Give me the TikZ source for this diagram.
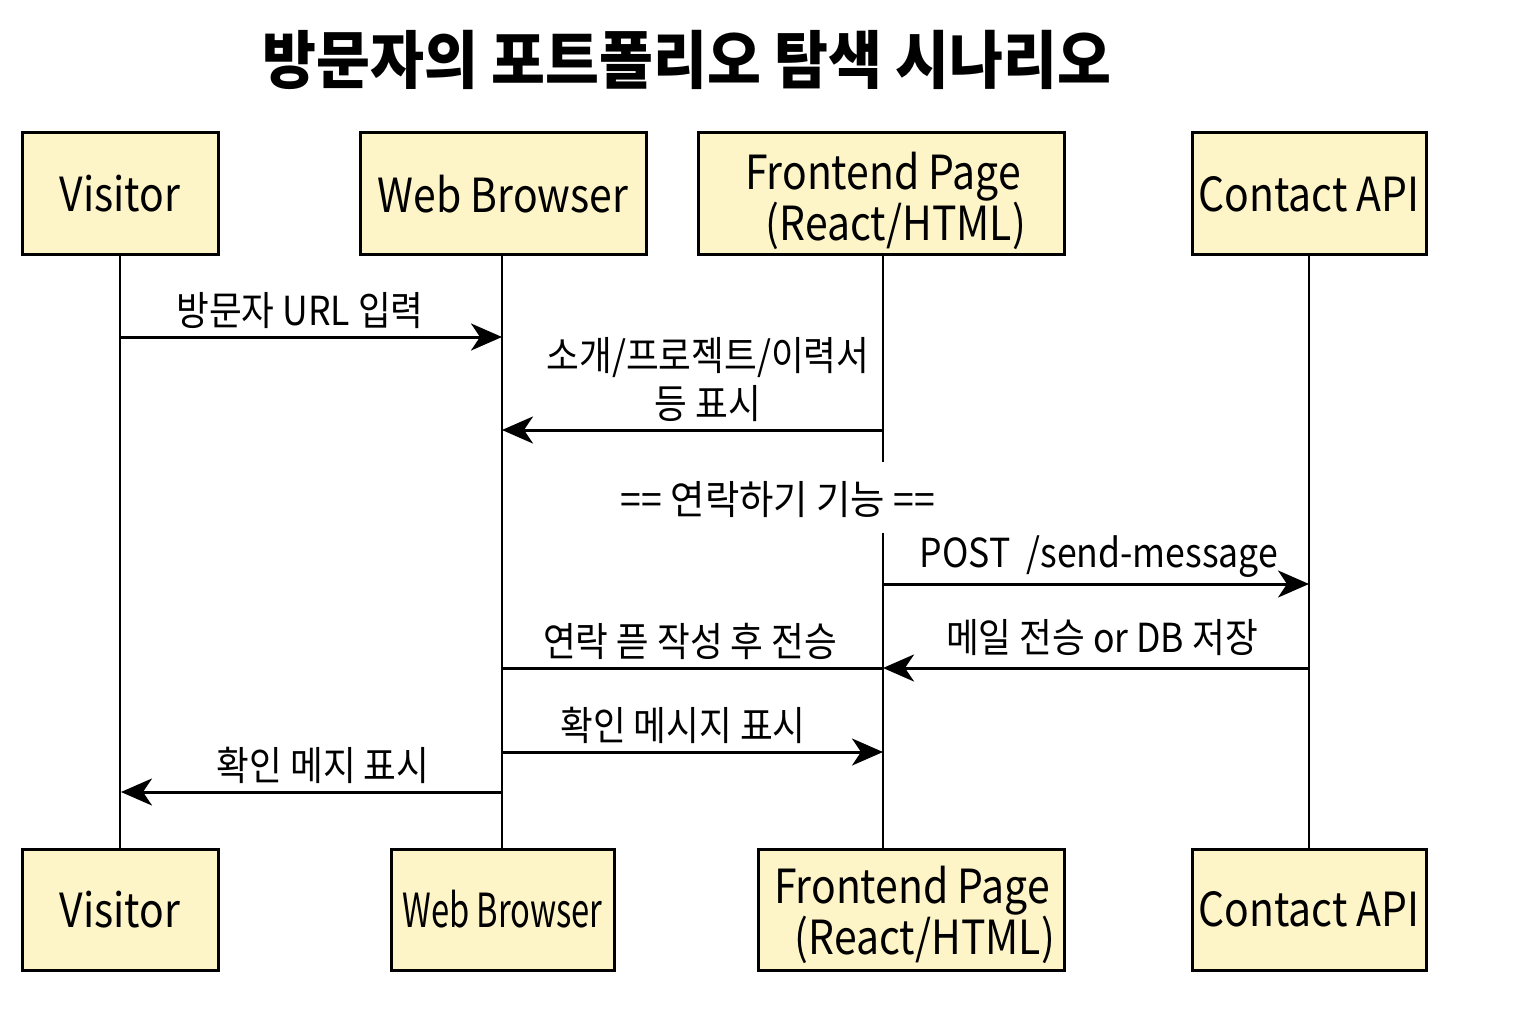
\documentclass[tikz,border=0pt]{standalone}
\usepackage{graphicx}
\usepackage{fontspec}
\setmainfont{Noto Sans CJK KR}[FakeStretch=0.89]
\newfontfamily\titlefont{Noto Sans CJK KR}[FakeStretch=0.93]
\newfontfamily\actorfont{Noto Sans CJK KR}[FakeStretch=0.87]
\usetikzlibrary{arrows.meta}
\definecolor{boxfill}{RGB}{253,244,200}
\tikzset{
  actor/.style={draw=black, line width=3pt, fill=boxfill, minimum height=122pt,
    align=center, inner sep=0pt, font=\actorfont\fontsize{47}{49}\selectfont},
  life/.style={line width=2.5pt},
  msg/.style={line width=3pt, -{Stealth[length=31pt,width=27pt,inset=9pt]}},
  plain/.style={line width=3pt},
  lbl/.style={font=\fontsize{40}{48}\selectfont, inner sep=0pt, align=center}
}
\begin{document}
\begin{tikzpicture}[x=1pt,y=-1pt]
\useasboundingbox (0,0) rectangle (1536,1024);
% title
\node[font=\titlefont\bfseries\fontsize{63}{70}\selectfont] (title) at (687,60) {방문자의 포트폴리오 탐색 시나리오};
% top actors
\node[actor, minimum width=196pt] (vt) at (120,194) {Visitor};
\node[actor, minimum width=286pt] (bt) at (503,194) {Web Browser};
\node[actor, minimum width=366pt] (ft) at (881,194) {};
\node[actor, draw=none, fill=none] (ftl) at (883,201) {Frontend Page\\\hspace*{0.55em}(React/HTML)};
\node[actor, minimum width=234pt] (ct) at (1309,194) {Contact API};
% bottom actors
\node[actor, minimum width=196pt, minimum height=121pt] (vb) at (120,909.5) {Visitor};
\node[actor, minimum width=223pt, minimum height=121pt] (bb) at (502.5,909.5) {\scalebox{0.8}[1]{Web Browser}};
\node[actor, minimum width=306pt, minimum height=121pt] (fb) at (911,909.5) {};
\node[actor, draw=none, fill=none] (fbl) at (912,915) {Frontend Page\\\hspace*{0.55em}(React/HTML)};
\node[actor, minimum width=234pt, minimum height=121pt] (cb) at (1309,909.5) {Contact API};
% lifeline coordinates
\coordinate (fl) at (883,255);
\coordinate (fgap1) at (883,462);
\coordinate (fgap2) at (883,533);
\coordinate (fend) at (883,849);
\coordinate (bl) at (502,255);
% lifelines
\draw[life] (vt.south) -- (vt.south |- vb.north);
\draw[life] (bl) -- (bl |- bb.north);
\draw[life] (fl) -- (fgap1);
\draw[life] (fgap2) -- (fend);
\draw[life] (ct.south) -- (ct.south |- cb.north);
% message points
\coordinate (m1a) at (121,337); \coordinate (m1b) at (502,337);
\coordinate (m2a) at (883,430); \coordinate (m2b) at (502,430);
\coordinate (m4a) at (883,584); \coordinate (m4b) at (1309,584);
\coordinate (m5a) at (1309,668); \coordinate (m5b) at (883,668);
\coordinate (m6a) at (502,668);
\coordinate (m7a) at (502,752); \coordinate (m7b) at (883,752);
\coordinate (m8a) at (502,792); \coordinate (m8b) at (121,792);
% messages
\draw[msg] (m1a) -- (m1b);
\node[lbl] (l1) at (300,311) {방문자 URL 입력};
\draw[msg] (m2a) -- (m2b);
\node[lbl] (l2) at (708,380) {소개/프로젝트/이력서\\등 표시};
\node[lbl] (sep) at (778,500) {\scalebox{1.05}[1]{== 연락하기 기능 ==}};
\draw[msg] (m4a) -- (m4b);
\node[lbl] (l4) at (1099,557) {POST\ \ /send-message};
\draw[msg] (m5a) -- (m5b);
\node[lbl] (l5) at (1102,638) {메일 전승 or DB 저장};
\draw[plain] (m6a) -- (m5b);
\node[lbl] (l6) at (690,641) {연락 픋 작성 후 전승};
\draw[msg] (m7a) -- (m7b);
\node[lbl] (l7) at (683,725) {확인 메시지 표시};
\draw[msg] (m8a) -- (m8b);
\node[lbl] (l8) at (323,765) {확인 메지 표시};
\end{tikzpicture}
\end{document}
